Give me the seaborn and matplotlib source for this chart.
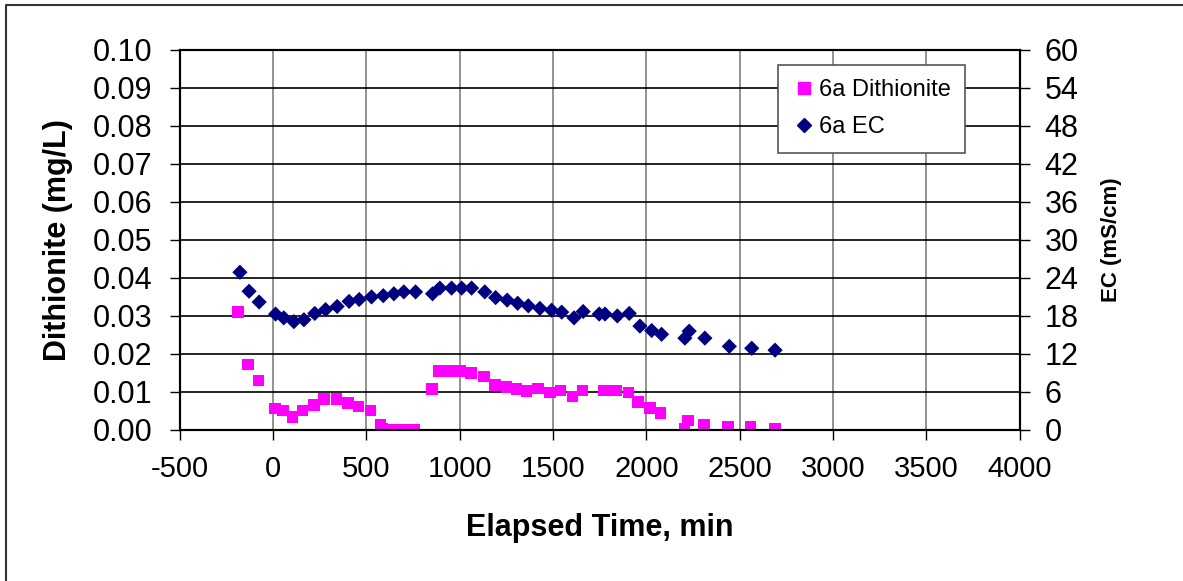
import numpy as np
import pandas as pd
import seaborn as sns
import matplotlib.pyplot as plt
from matplotlib.lines import Line2D

# 6a Dithionite (mg/L) vs elapsed time (min)
dith_time = [-188, -134, -78, 9, 54, 104, 157, 220, 273, 340, 402, 457, 522, 575, 585,
             640, 693, 756, 852, 890, 951, 1000, 1060, 1129, 1188, 1251, 1304, 1358,
             1420, 1483, 1540, 1604, 1658, 1774, 1837, 1903, 1956, 2019, 2076, 2203,
             2224, 2310, 2438, 2558, 2689]
dith_vals = [0.031, 0.0172, 0.013, 0.0056, 0.0051, 0.0034, 0.0051, 0.0066, 0.0082, 0.0082,
             0.0071, 0.0062, 0.0051, 0.0014, 0.0002, 0.0, 0.0, 0.0, 0.0108, 0.0155,
             0.0155, 0.0155, 0.015, 0.0141, 0.0119, 0.0113, 0.0108, 0.0103, 0.0109,
             0.0099, 0.0104, 0.0088, 0.0104, 0.0104, 0.0104, 0.0099, 0.0073, 0.0058,
             0.0045, 0.0003, 0.0025, 0.0014, 0.0008, 0.0008, 0.0003]

# 6a EC (mS/cm) vs elapsed time (min)
ec_time = [-178, -129, -75, 13, 57, 111, 165, 223, 281, 343, 407, 461, 527, 590, 647, 700,
           763, 854, 893, 956, 1010, 1063, 1134, 1192, 1254, 1310, 1367, 1429, 1492, 1546,
           1612, 1661, 1747, 1778, 1844, 1908, 1965, 2028, 2081, 2206, 2229, 2313, 2444,
           2564, 2689]
ec_vals = [24.9, 21.9, 20.2, 18.3, 17.7, 17.1, 17.4, 18.4, 19.0, 19.5, 20.3, 20.6, 21.0,
           21.2, 21.5, 21.8, 21.8, 21.5, 22.4, 22.4, 22.4, 22.4, 21.8, 20.9, 20.5, 20.0,
           19.6, 19.2, 18.9, 18.6, 17.7, 18.7, 18.3, 18.3, 18.0, 18.4, 16.4, 15.7, 15.1,
           14.5, 15.6, 14.5, 13.2, 12.9, 12.6]

x_ticks = np.arange(-500, 4001, 500)
left_ticks = np.arange(0, 0.1001, 0.01)
right_ticks = np.arange(0, 61, 6)

dith_df = pd.DataFrame({"t": dith_time, "v": dith_vals})
ec_df = pd.DataFrame({"t": ec_time, "v": ec_vals})

sns.set_theme(style="white")
plt.rcParams["font.family"] = ["Liberation Sans", "DejaVu Sans"]
plt.rcParams.update({"text.color": "black", "axes.labelcolor": "black",
                     "xtick.color": "black", "ytick.color": "black"})

fig = plt.figure(figsize=(11.83, 5.81), dpi=100)
ax = fig.add_axes([0.152, 0.26, 0.71, 0.654])
ax2 = ax.twinx()

sns.scatterplot(data=dith_df, x="t", y="v", ax=ax, marker="s", s=70,
                color="#FF00FF", edgecolor="none", zorder=3)
sns.scatterplot(data=ec_df, x="t", y="v", ax=ax2, marker="D", s=60,
                color="#000080", edgecolor="none", zorder=3)

ax.set_xlim(-500, 4000)
ax.set_ylim(0, 0.1)
ax2.set_ylim(0, 60)
ax.set_xticks(x_ticks)
ax.set_yticks(left_ticks)
ax.set_yticklabels([f"{v:.2f}" for v in left_ticks])
ax.set_xticklabels([str(v) for v in x_ticks])
ax2.set_yticks(right_ticks)

for t in x_ticks[1:-1]:
    ax.axvline(t, color="#808080", lw=1.2, zorder=1)
for v in left_ticks[1:-1]:
    ax.axhline(v, color="black", lw=1.2, zorder=1)

for a in (ax, ax2):
    for sp in a.spines.values():
        sp.set_color("black")
        sp.set_linewidth(1.5)
ax.tick_params(axis="x", direction="out", length=7, width=1, color="black",
               labelsize=21, bottom=True, pad=11)
ax.tick_params(axis="y", direction="out", length=7, width=1, color="black",
               labelsize=22, left=True, pad=13)
ax2.tick_params(axis="y", direction="out", length=7, width=1, color="black",
                labelsize=22, right=True, pad=11)

ax.set_xlabel("Elapsed Time, min", fontsize=22, fontweight="bold", labelpad=22)
ax.set_ylabel("Dithionite (mg/L)", fontsize=22, fontweight="bold", labelpad=14)
ax2.set_ylabel("EC (mS/cm)", fontsize=16, fontweight="bold", labelpad=16)

handles = [
    Line2D([], [], marker="s", color="#FF00FF", ls="none", markersize=8),
    Line2D([], [], marker="D", color="#000080", ls="none", markersize=7),
]
leg = ax2.legend(handles, ["6a Dithionite", "6a EC"], loc="upper left",
                 bbox_to_anchor=(0.712, 0.9605), fontsize=17, frameon=True,
                 fancybox=False, edgecolor="#555555", framealpha=1,
                 handletextpad=0.15, handlelength=1.0, labelspacing=0.65,
                 borderpad=0.6, borderaxespad=0)
leg.get_frame().set_linewidth(1.2)

# chart-area border (left and top edges visible in the original)
fig.add_artist(Line2D([0.005, 0.005, 1.0], [0.0, 0.991, 0.991],
                      transform=fig.transFigure, color="#333333", lw=1.5))

fig.savefig("out.png", dpi=100)
